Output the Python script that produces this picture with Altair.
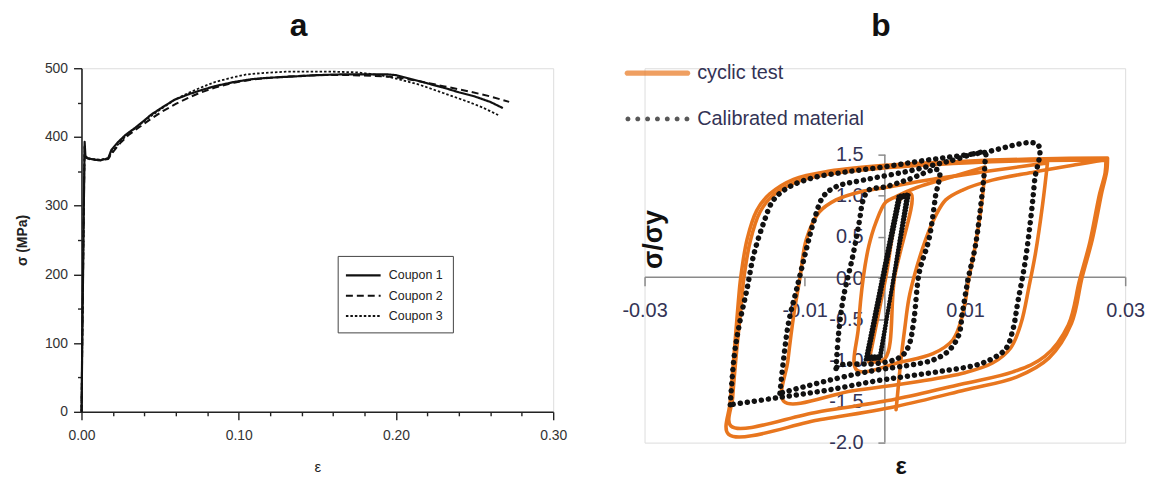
import altair as alt
import pandas as pd

ORANGE = "#E8761E"
NAVY = "#333355"

# ---------------- Panel a: monotonic coupon tests ----------------
coupon_names = ["Coupon 1", "Coupon 2", "Coupon 3"]
c1_eps = [0, 0.0008, 0.0015, 0.002, 0.0025, 0.004, 0.008, 0.012, 0.017, 0.019, 0.023, 0.028, 0.034,
          0.040, 0.044, 0.050, 0.059, 0.068, 0.076, 0.085, 0.097, 0.108, 0.118, 0.135, 0.150, 0.165,
          0.180, 0.195, 0.200, 0.210, 0.220, 0.230, 0.240, 0.250, 0.260, 0.268]
c1_sig = [0, 160, 300, 393, 372, 369, 367, 366, 369, 381, 392, 403, 413, 424, 432, 441, 454, 462,
          468, 474, 480, 484, 486, 488, 490, 491, 491, 491, 490, 484, 478, 472, 465, 459, 451, 442]
c2_eps = [0, 0.0008, 0.0015, 0.002, 0.0025, 0.006, 0.012, 0.017, 0.020, 0.025, 0.030, 0.036, 0.044,
          0.052, 0.060, 0.068, 0.075, 0.085, 0.097, 0.110, 0.125, 0.140, 0.155, 0.170, 0.185, 0.200,
          0.215, 0.230, 0.245, 0.260, 0.272]
c2_sig = [0, 160, 300, 385, 370, 367, 366, 368, 378, 392, 403, 413, 426, 438, 448, 457, 464, 472,
          479, 484, 487, 489, 490, 490, 489, 487, 481, 474, 467, 459, 451]
c3_eps = [0, 0.0008, 0.0015, 0.002, 0.0025, 0.006, 0.012, 0.017, 0.020, 0.025, 0.030, 0.036, 0.044,
          0.052, 0.060, 0.068, 0.076, 0.085, 0.095, 0.105, 0.115, 0.130, 0.145, 0.160, 0.175, 0.190,
          0.200, 0.215, 0.230, 0.245, 0.255, 0.265]
c3_sig = [0, 160, 300, 388, 371, 368, 367, 369, 380, 394, 405, 416, 430, 443, 455, 464, 472, 480,
          486, 491, 493, 495, 495, 495, 494, 490, 485, 476, 464, 452, 443, 432]

a_x_ticks = [0.0, 0.02, 0.04, 0.06, 0.08, 0.10, 0.12, 0.14, 0.16, 0.18, 0.20, 0.22, 0.24, 0.26, 0.28, 0.30]
a_y_ticks = [0, 50, 100, 150, 200, 250, 300, 350, 400, 450, 500]

rows = []
for name, es, ss in zip(coupon_names, [c1_eps, c2_eps, c3_eps], [c1_sig, c2_sig, c3_sig]):
    for i, (e, s) in enumerate(zip(es, ss)):
        rows.append({"coupon": name, "eps": e, "sig": s, "idx": i})
df_a = pd.DataFrame(rows)

major_x = "abs(datum.value*10 - round(datum.value*10)) < 0.001"
major_y = "abs(datum.value/100 - round(datum.value/100)) < 0.001"
FONT_A = "Liberation Sans"

axis_a_x = alt.Axis(
    values=a_x_ticks, title="ε", labelExpr=f"{major_x} ? format(datum.value, '.2f') : ''",
    tickSize={"condition": {"test": major_x, "value": 8}, "value": 4},
    labelFont=FONT_A, labelFontSize=14, labelColor="#333", labelPadding=9, labelFlush=False,
    labelOverlap=False, domainColor="#222", domainWidth=1.6, tickColor="#222", tickWidth=1.4,
    titleFont=FONT_A, titleFontSize=15, titleFontWeight="normal", titlePadding=17, titleColor="#222",
    grid=False)
axis_a_y = alt.Axis(
    values=a_y_ticks, title="σ (MPa)", labelExpr=f"{major_y} ? format(datum.value, 'd') : ''",
    tickSize={"condition": {"test": major_y, "value": 8}, "value": 4},
    labelFont=FONT_A, labelFontSize=14, labelColor="#333", labelPadding=6, labelOverlap=False,
    domainColor="#222", domainWidth=1.6, tickColor="#222", tickWidth=1.4,
    titleFont=FONT_A, titleFontSize=14, titleFontWeight="bold", titlePadding=15, titleColor="#222",
    grid=False)

legend_a = alt.Legend(
    title=None, orient="none", legendX=258, legendY=189, symbolType="M-1.36,0H2.88",
    symbolSize=272, symbolStrokeWidth=1.8, symbolStrokeColor="#111", labelFont=FONT_A,
    labelFontSize=12.5, labelColor="#222", labelOffset=22.5, rowPadding=4.5, padding=10,
    strokeColor="#444")

TITLE_KW = dict(fontSize=32, fontWeight="bold", font="Liberation Sans", anchor="middle",
                offset=-7, baseline="alphabetic", color="#111")

chart_a = alt.Chart(df_a).mark_line(color="#111", clip=False, strokeJoin="round").encode(
    x=alt.X("eps:Q", scale=alt.Scale(domain=[0, 0.3], nice=False, zero=False), axis=axis_a_x),
    y=alt.Y("sig:Q", scale=alt.Scale(domain=[0, 500], nice=False), axis=axis_a_y),
    strokeDash=alt.StrokeDash("coupon:N", scale=alt.Scale(domain=coupon_names, range=[[1, 0], [7, 4], [2.5, 2]]),
                              legend=legend_a),
    strokeWidth=alt.StrokeWidth("coupon:O", scale=alt.Scale(domain=coupon_names, range=[2.2, 1.8, 1.2]),
                                legend=None),
    order=alt.Order("idx:Q"),
).properties(width=475, height=346, title=alt.TitleParams("a", dx=-19, **TITLE_KW))

# ---------------- Panel b: cyclic loops ----------------
series_names = ["cyclic test", "Calibrated material"]

# cyclic test (orange) loops
oa1_eps = [0.0278, 0.0277, 0.0271, 0.0259, 0.0246, 0.0233, 0.0205, 0.0165, 0.0100, 0.0014, -0.0080, -0.0195,
           -0.0193, -0.0188, -0.0183, -0.0180, -0.0172, -0.0160, -0.0144, -0.0114, -0.0069, 0.0000, 0.0100,
           0.0200, 0.0278]
oa1_sig = [1.46, 1.30, 1.05, 0.47, 0.00, -0.55, -0.97, -1.20, -1.36, -1.56, -1.72, -1.90,
           -1.50, -0.90, -0.30, 0.00, 0.47, 0.82, 1.02, 1.20, 1.30, 1.37, 1.42, 1.45, 1.46]
oa2_eps = [0.0276, 0.0275, 0.0268, 0.0256, 0.0243, 0.0229, 0.0200, 0.0160, 0.0095, 0.0014, -0.0085, -0.0192,
           -0.0190, -0.0185, -0.0179, -0.0176, -0.0168, -0.0156, -0.0140, -0.0110, -0.0065, 0.0000, 0.0100,
           0.0200, 0.0276]
oa2_sig = [1.43, 1.28, 1.02, 0.44, -0.03, -0.57, -0.95, -1.14, -1.29, -1.47, -1.63, -1.80,
           -1.45, -0.88, -0.30, 0.00, 0.45, 0.80, 1.00, 1.17, 1.27, 1.34, 1.40, 1.43, 1.43]
oa3_eps = [0.0014, 0.0016, 0.0020, 0.0025, 0.0030, 0.0038, 0.0051, 0.0063, 0.0076, 0.0097, 0.0134, 0.0187,
           0.0240, 0.0276]
oa3_sig = [-1.60, -1.40, -1.00, -0.60, -0.25, 0.07, 0.47, 0.75, 0.95, 1.07, 1.19, 1.29, 1.38, 1.44]
ob_eps = [0.0203, 0.0197, 0.0188, 0.0180, 0.0170, 0.0157, 0.0135, 0.0100, 0.0040, -0.0040, -0.0126,
          -0.0121, -0.0113, -0.0106, -0.0098, -0.0082, -0.0061, -0.0030, 0.0000, 0.0060, 0.0130, 0.0203]
ob_sig = [1.40, 0.90, 0.30, -0.10, -0.55, -0.85, -1.03, -1.15, -1.26, -1.37, -1.50,
          -1.00, -0.40, 0.00, 0.47, 0.80, 0.95, 1.05, 1.10, 1.20, 1.30, 1.40]
oc_eps = [0.0125, 0.0122, 0.0113, 0.0105, 0.0097, 0.0085, 0.0060, 0.0020, -0.0035,
          -0.0033, -0.0027, -0.0020, -0.0011, 0.0001, 0.0014, 0.0040, 0.0080, 0.0125]
oc_sig = [1.35, 1.00, 0.40, 0.00, -0.45, -0.75, -0.92, -1.02, -1.12,
          -0.60, 0.00, 0.39, 0.68, 0.92, 0.99, 1.10, 1.22, 1.35]
od_eps = [-0.0020, 0.0001, 0.0022, 0.0033, 0.0012, 0.0000, -0.0020]
od_sig = [-1.02, 0.00, 1.00, 1.02, 0.00, -0.98, -1.02]

# calibrated material (dotted) loops
da_eps = [-0.0193, -0.0188, -0.0181, -0.0172, -0.0164, -0.0151, -0.0139, -0.0119, -0.0089, -0.0048, -0.0002,
          0.0050, 0.0120, 0.0191, 0.0187, 0.0183, 0.0175, 0.0166, 0.0160, 0.0151, 0.0134, 0.0113, 0.0072,
          0.0030, -0.0011, -0.0070, -0.0131, -0.0193]
da_sig = [-1.54, -0.94, -0.53, -0.13, 0.27, 0.68, 0.95, 1.11, 1.22, 1.29, 1.35,
          1.43, 1.52, 1.62, 1.19, 0.80, 0.19, -0.29, -0.62, -0.86, -0.98, -1.06, -1.13,
          -1.19, -1.25, -1.36, -1.45, -1.54]
db_eps = [-0.0131, -0.0126, -0.0120, -0.0110, -0.0098, -0.0089, -0.0077, -0.0061, -0.0027, 0.0030, 0.0080,
          0.0125, 0.0125, 0.0121, 0.0113, 0.0104, 0.0097, 0.0092, 0.0079, 0.0059, 0.0030, -0.0011, -0.0060,
          -0.0131]
db_sig = [-1.40, -0.95, -0.53, -0.13, 0.35, 0.68, 0.99, 1.11, 1.19, 1.30, 1.42,
          1.52, 1.40, 0.99, 0.39, -0.01, -0.41, -0.70, -0.89, -1.00, -1.06, -1.12, -1.22, -1.40]
dc_eps = [-0.0061, -0.0058, -0.0052, -0.0040, -0.0032, -0.0027, -0.0020, 0.0001, 0.0030, 0.0067,
          0.0063, 0.0055, 0.0043, 0.0036, 0.0030, 0.0022, 0.0010, -0.0011, -0.0057, -0.0061]
dc_sig = [-1.10, -0.70, -0.25, 0.27, 0.68, 0.95, 1.07, 1.11, 1.20, 1.31,
          0.98, 0.47, 0.07, -0.53, -0.82, -0.94, -1.00, -1.04, -1.06, -1.10]
dd1_eps = [-0.0024, 0.0017, 0.0030, -0.0007, -0.0024]
dd1_sig = [-0.99, 1.00, 1.02, -0.98, -0.99]
dd2_eps = [-0.0021, 0.0019, 0.0027, -0.0005, -0.0021]
dd2_sig = [-0.95, 0.97, 0.99, -0.95, -0.95]

b_x_ticks = [-0.03, -0.01, 0.01, 0.03]
b_y_ticks = [-2.0, -1.5, -1.0, -0.5, 0.0, 0.5, 1.0, 1.5]


def loops_df(loops, series):
    out = []
    for lid, es, ss in loops:
        for i, (e, s) in enumerate(zip(es, ss)):
            out.append({"loop": lid, "eps": e, "sig": s, "idx": i, "series": series})
    return pd.DataFrame(out)


df_orange = loops_df([("OA1", oa1_eps, oa1_sig), ("OA2", oa2_eps, oa2_sig), ("OA3", oa3_eps, oa3_sig),
                      ("OB", ob_eps, ob_sig), ("OC", oc_eps, oc_sig), ("OD", od_eps, od_sig)], series_names[0])
df_dot = loops_df([("DA", da_eps, da_sig), ("DB", db_eps, db_sig), ("DC", dc_eps, dc_sig)], series_names[1])
df_dense = loops_df([("DD1", dd1_eps, dd1_sig), ("DD2", dd2_eps, dd2_sig)], series_names[1])
df_yaxis = pd.DataFrame({"x": [0.0], "y": [min(b_y_ticks)], "y2": [max(b_y_ticks)]})

FONT_B = "Liberation Sans"
xs_b = alt.Scale(domain=[-0.03, 0.03], nice=False, zero=False)
ys_b = alt.Scale(domain=[-2.0, 2.55], nice=False, zero=False)

axis_b_x = alt.Axis(
    values=b_x_ticks, title="ε", offset=-167, tickSize=9, tickColor="#8a8a8a", tickWidth=1.5,
    domainColor="#8a8a8a", domainWidth=1.5, labelFont=FONT_B, labelFontSize=20, labelColor=NAVY,
    labelPadding=15, labelFlush=False, labelOverlap=False,
    labelExpr="replace(format(datum.value, '.2f'), '\u2212', '-')",
    titleFont=FONT_B, titleFontSize=24, titleFontWeight="bold", titleColor="#111",
    titleX=258, titleY=191, titleAlign="center", titleBaseline="middle", grid=False)
axis_b_y = alt.Axis(
    values=b_y_ticks, title="σ/σy", offset=-242, domain=False, tickSize=7, tickColor="#8a8a8a",
    tickWidth=1.5, labelFont=FONT_B, labelFontSize=20, labelColor=NAVY, labelPadding=15,
    labelOverlap=False, labelExpr="replace(format(datum.value, '.1f'), '\u2212', '-')",
    titleFont=FONT_B, titleFontSize=27, titleFontWeight="bold", titleColor="#111",
    titleX=-233, titleY=172, titleAngle=270, titleAlign="center", titleBaseline="middle", grid=False)

yaxis_line = alt.Chart(df_yaxis).mark_rule(color="#8a8a8a", strokeWidth=1.5).encode(
    x=alt.X("x:Q", scale=xs_b, axis=axis_b_x),
    y=alt.Y("y:Q", scale=ys_b, axis=axis_b_y),
    y2="y2:Q")


def loop_layer(df, interp, **mark_kw):
    return alt.Chart(df).mark_line(clip=False, interpolate=interp, **mark_kw).encode(
        x=alt.X("eps:Q", scale=xs_b, axis=axis_b_x),
        y=alt.Y("sig:Q", scale=ys_b, axis=axis_b_y),
        detail="loop:N", order=alt.Order("idx:Q"))


orange_lines = loop_layer(df_orange, "catmull-rom", color=ORANGE, strokeWidth=3.6, strokeJoin="round",
                          strokeCap="round")
dot_lines = loop_layer(df_dot, "catmull-rom", color="#111", strokeWidth=5.5, strokeDash=[0.1, 7],
                       strokeCap="round")
dense_lines = loop_layer(df_dense, "linear", color="#111", strokeWidth=4, strokeDash=[0.1, 3],
                         strokeCap="round")

LINE_SYM = "M-1.84,-0.16H1.84A0.16,0.16 0 0 1 1.84,0.16H-1.84A0.16,0.16 0 0 1 -1.84,-0.16Z"
DOT_SYM = " ".join(
    f"M{c - 0.15:.2f},0a0.15,0.15 0 1,0 0.3,0a0.15,0.15 0 1,0 -0.3,0"
    for c in [-1.8, -1.2, -0.6, 0.0, 0.6, 1.2, 1.8])
legend_b = alt.Legend(
    title=None, orient="none", legendX=-3.5, legendY=-11.5, symbolSize=1089, symbolStrokeWidth=0,
    labelFont=FONT_B, labelFontSize=20, labelColor=NAVY, labelOffset=23.5, rowPadding=19, padding=0,
    labelLimit=400)

legend_layer = alt.Chart(alt.InlineData(values=[])).mark_point(filled=True, size=1089, strokeWidth=0).encode(
    color=alt.Color("series:N", scale=alt.Scale(domain=series_names, range=[ORANGE, "#111"]), legend=legend_b),
    shape=alt.Shape("series:N", scale=alt.Scale(domain=series_names, range=[LINE_SYM, DOT_SYM]), legend=legend_b))

chart_b = alt.layer(yaxis_line, orange_lines, dot_lines, dense_lines, legend_layer).properties(
    width=484, height=377, title=alt.TitleParams("b", dx=-4, dy=4, **TITLE_KW))

chart = alt.hconcat(chart_a, chart_b, spacing=92, bounds="flush").properties(
    padding={"left": 7, "top": 0, "right": 5, "bottom": 0}
).resolve_scale(
    color="independent", shape="independent", strokeDash="independent", strokeWidth="independent"
).configure_view(stroke=None).configure(background="white")

chart.save("out.html", embed_options={"renderer": "svg", "actions": False})
